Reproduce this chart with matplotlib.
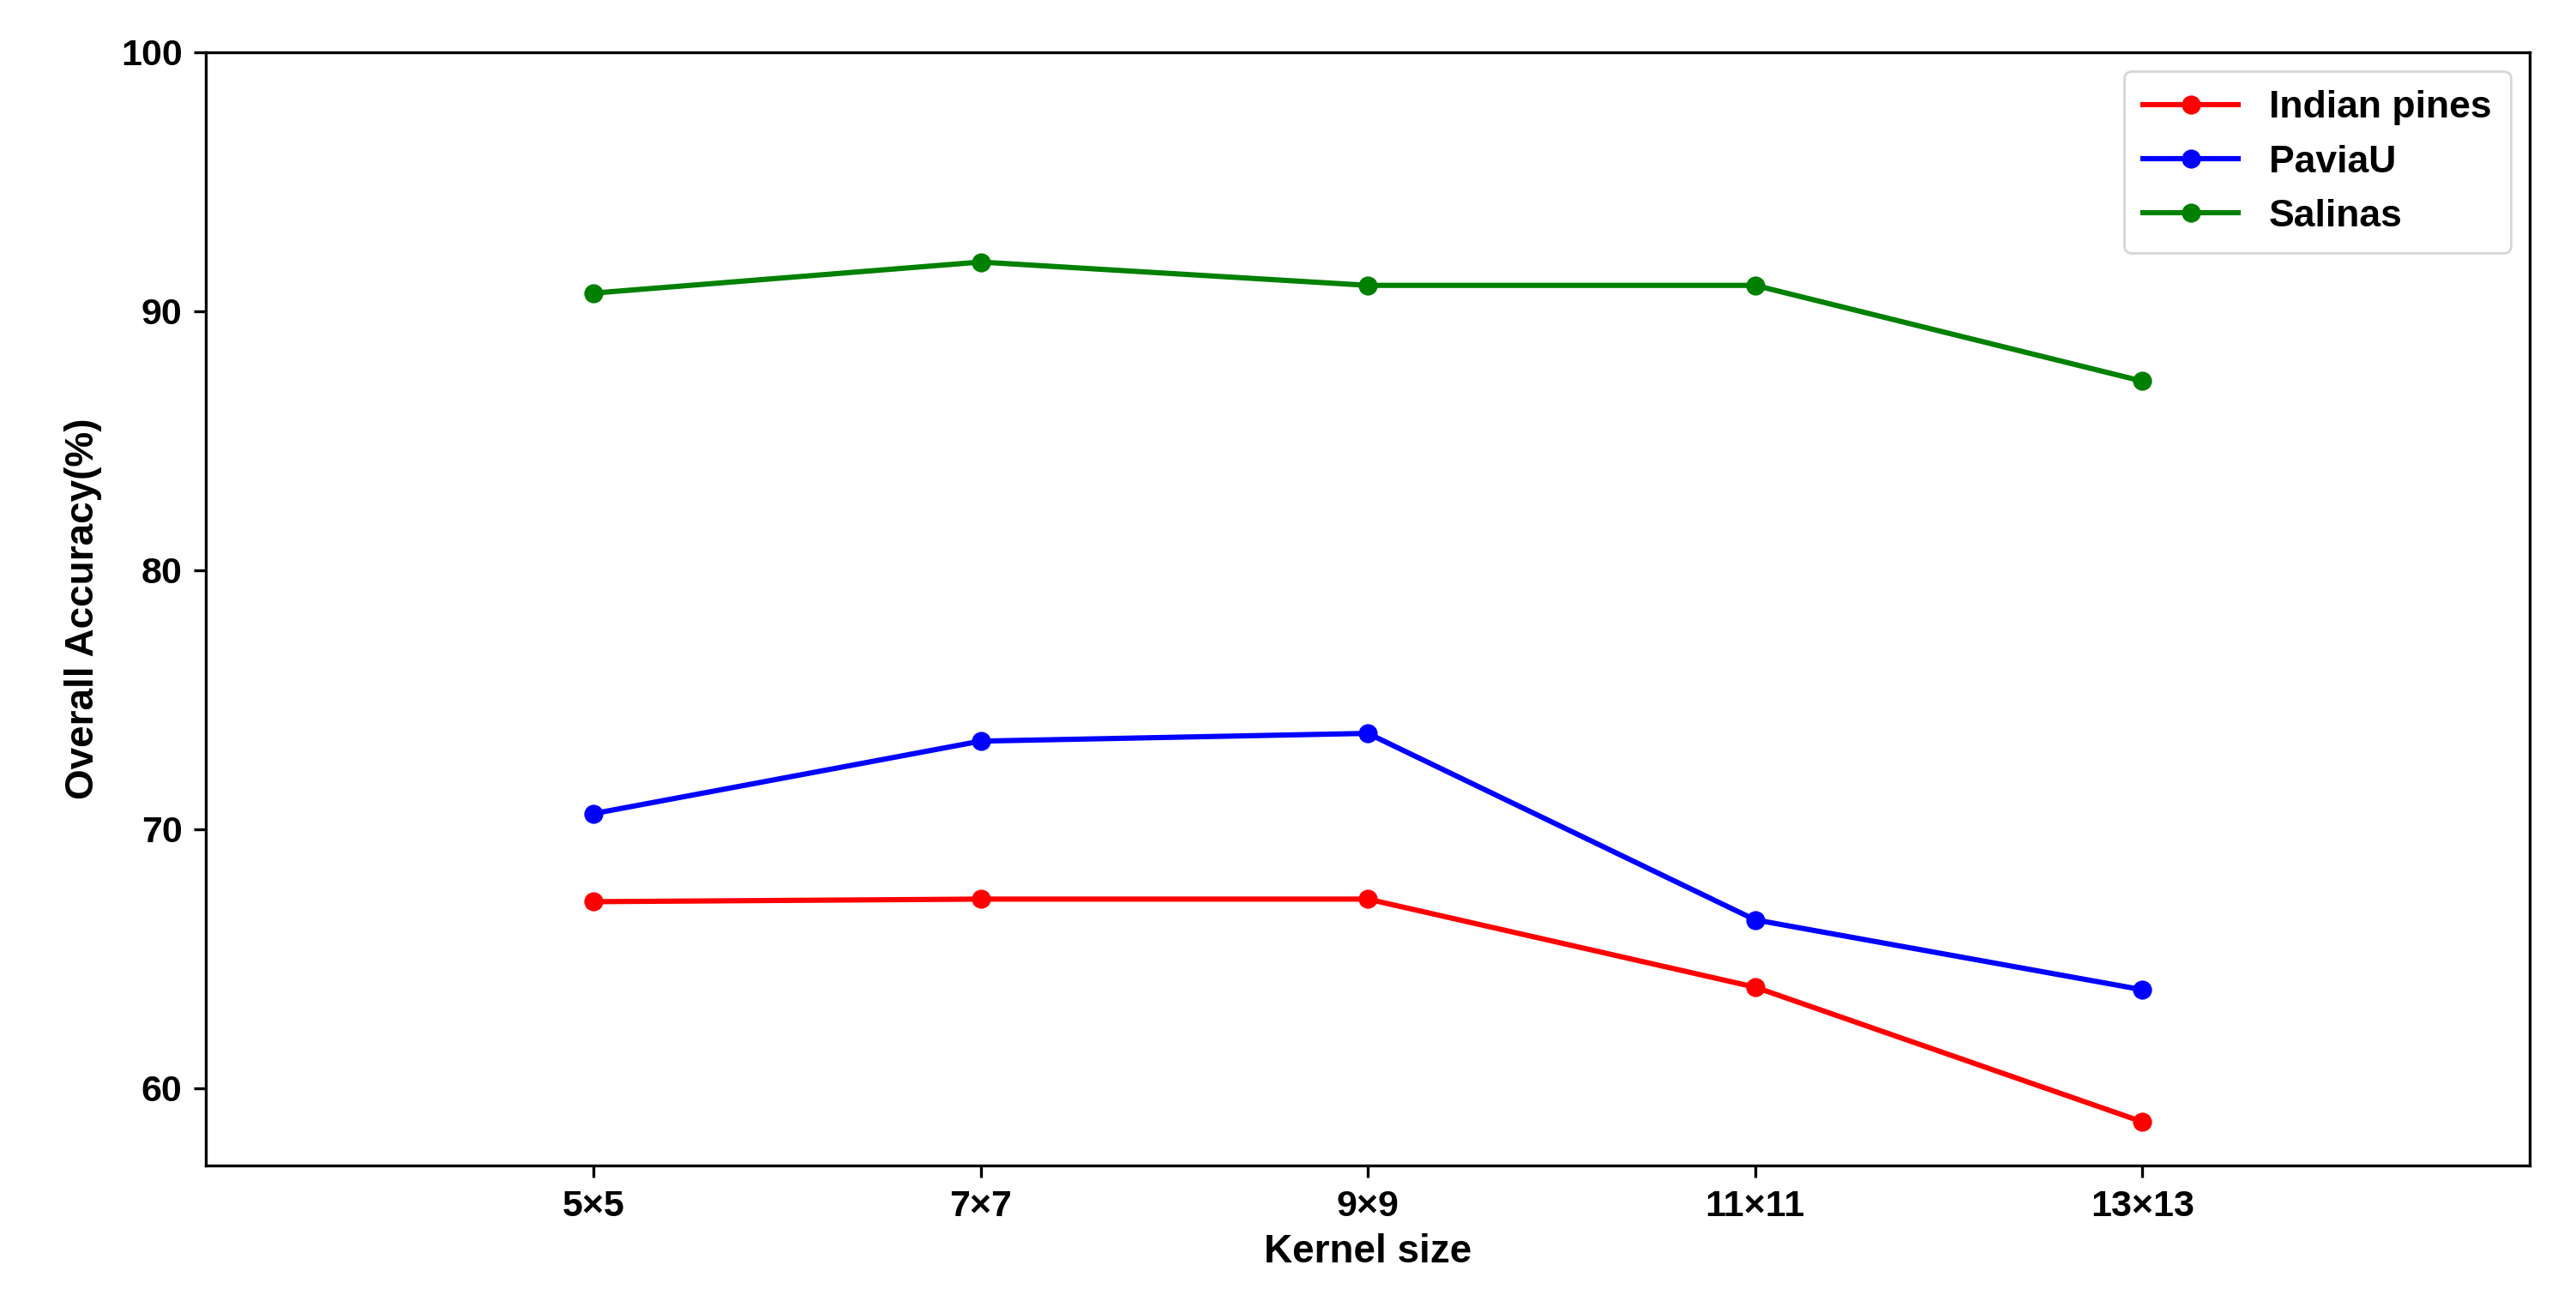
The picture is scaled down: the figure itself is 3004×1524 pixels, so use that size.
import matplotlib.pyplot as plt

kernel_sizes = ['5×5', '7×7', '9×9', '11×11', '13×13']
indian_pines = [67.2, 67.3, 67.3, 63.9, 58.7]
pavia_u = [70.6, 73.4, 73.7, 66.5, 63.8]
salinas = [90.7, 91.9, 91.0, 91.0, 87.3]

plt.rcParams['font.family'] = ['Arial', 'Liberation Sans', 'DejaVu Sans']
plt.rcParams['font.weight'] = 'bold'

fig = plt.figure(figsize=(15.02, 7.62), dpi=200)
ax = fig.add_axes([0.080, 0.108, 0.902, 0.852])

x = range(len(kernel_sizes))
ax.plot(x, indian_pines, color='red', marker='o', markersize=7, linewidth=2.2, label='Indian pines')
ax.plot(x, pavia_u, color='blue', marker='o', markersize=7, linewidth=2.2, label='PaviaU')
ax.plot(x, salinas, color='green', marker='o', markersize=7, linewidth=2.2, label='Salinas')

ax.set_xlim(-1, 5)
ax.set_ylim(57, 100)
ax.set_xticks(list(x))
ax.set_xticklabels(kernel_sizes)
ax.set_yticks([60, 70, 80, 90, 100])
ax.tick_params(labelsize=15.5, width=1.2, length=5, pad=5)
for s in ax.spines.values():
    s.set_linewidth(1.2)
ax.set_xlabel('Kernel size', fontsize=16.5, weight='bold', labelpad=4)
ax.set_ylabel('Overall Accuracy(%)', fontsize=16.5, weight='bold', labelpad=8)
ax.legend(loc='upper right', fontsize=16, handlelength=2.5, borderpad=0.5)

fig.savefig('out.png', dpi=200)
